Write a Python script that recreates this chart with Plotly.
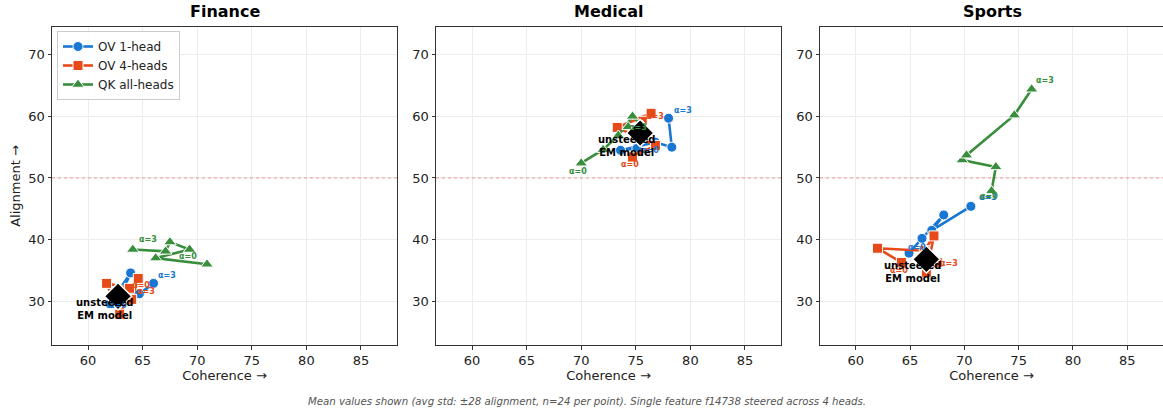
import plotly.graph_objects as go

# ---------------- data ----------------
domains = ["Finance", "Medical", "Sports"]
series_names = ["OV 1-head", "OV 4-heads", "QK all-heads"]
alpha_labels = ["α=0", "α=3"]

fin_ov1_x = [62.0, 63.9, 63.2, 64.7, 66.0]
fin_ov1_y = [29.6, 34.6, 31.8, 31.2, 32.9]
fin_ov4_x = [63.8, 61.7, 62.9, 64.6, 64.0]
fin_ov4_y = [32.1, 32.9, 27.9, 33.7, 30.3]
fin_qk_x = [70.9, 66.2, 69.3, 67.5, 67.1, 64.1]
fin_qk_y = [36.0, 37.0, 38.4, 39.6, 38.1, 38.4]

med_ov1_x = [75.1, 73.6, 76.8, 78.3, 78.0]
med_ov1_y = [54.8, 54.5, 55.8, 55.0, 59.7]
med_ov4_x = [74.7, 76.8, 73.3, 76.4, 75.6]
med_ov4_y = [53.4, 55.3, 58.2, 60.5, 59.2]
med_qk_x = [70.0, 72.0, 73.4, 74.7, 75.6, 74.3]
med_qk_y = [52.4, 54.6, 56.9, 60.0, 58.5, 58.3]

spo_ov1_x = [64.9, 66.1, 68.1, 67.0, 70.6]
spo_ov1_y = [37.8, 40.2, 44.0, 41.5, 45.4]
spo_ov4_x = [64.2, 62.0, 66.3, 67.2, 66.5, 67.5]
spo_ov4_y = [36.3, 38.6, 38.2, 40.6, 34.7, 36.3]
spo_qk_x = [72.5, 72.9, 69.8, 70.2, 74.6, 76.2]
spo_qk_y = [47.9, 51.8, 52.9, 53.7, 60.2, 64.4]

base_x = [62.75, 75.4, 66.5]
base_y = [30.8, 57.3, 36.8]

panel_data = [
    [(fin_ov1_x, fin_ov1_y), (fin_ov4_x, fin_ov4_y), (fin_qk_x, fin_qk_y)],
    [(med_ov1_x, med_ov1_y), (med_ov4_x, med_ov4_y), (med_qk_x, med_qk_y)],
    [(spo_ov1_x, spo_ov1_y), (spo_ov4_x, spo_ov4_y), (spo_qk_x, spo_qk_y)],
]

x_ticks = [60, 65, 70, 75, 80, 85]
y_ticks = [30, 40, 50, 60, 70]
ref_alignment = 50

footnote = ("Mean values shown (avg std: ±28 alignment, n=24 per point). "
            "Single feature f14738 steered across 4 heads.")

# ---------------- styles ----------------
colors = ["#1976D2", "#E64A19", "#388E3C"]
symbols = ["circle", "square", "triangle-up"]
msizes = [10, 10, 11]

# label pixel offsets (dx, dy screen-down) for [alpha=0, alpha=3] per panel/series
label_offsets = [
    [[(8, 2), (13, -8)], [(11, -3), (14, -8)], [(-19, -8), (15, -10)]],
    [[(13, 2), (14, -8)], [(-3, 7), (13, -5)], [(-3, 8), (10, 1)]],
    [[(8, -6), (17, -9)], [(-2, 8), (12, 1)], [(-3, 6), (13, -9)]],
]

x_doms = [(52 / 1163, 397 / 1163), (436 / 1163, 781 / 1163), (820 / 1163, 1.0)]
title_x = [224.5 / 1163, 608.5 / 1163, 992.5 / 1163]
y_dom = (1 - 345 / 413, 1 - 27 / 413)
x_range = [56.7, 88.3]
y_range = [22.9, 74.5]

fig = go.Figure()
annotations = []

for p, dom in enumerate(domains):
    ax = "" if p == 0 else str(p + 1)
    xref, yref = "x" + ax, "y" + ax
    # reference line
    fig.add_trace(go.Scatter(
        x=x_range, y=[ref_alignment, ref_alignment], mode="lines",
        line=dict(color="rgba(240,110,110,0.7)", width=1, dash="dot"),
        xaxis=xref, yaxis=yref, showlegend=False, hoverinfo="skip"))
    for s, (xs, ys) in enumerate(panel_data[p]):
        fig.add_trace(go.Scatter(
            x=xs, y=ys, mode="lines+markers", name=series_names[s],
            line=dict(color=colors[s], width=2.6),
            marker=dict(symbol=symbols[s], size=msizes[s], color=colors[s],
                        line=dict(color="white", width=1)),
            xaxis=xref, yaxis=yref, showlegend=(p == 0), legendgroup=series_names[s]))
        for k, idx in enumerate([0, len(xs) - 1]):
            dx, dy = label_offsets[p][s][k]
            annotations.append(dict(
                x=xs[idx], y=ys[idx], xref=xref, yref=yref, showarrow=False,
                text="<b>" + alpha_labels[k] + "</b>", xshift=dx, yshift=-dy,
                font=dict(size=8, color=colors[s], family="DejaVu Sans")))
    fig.add_trace(go.Scatter(
        x=[base_x[p]], y=[base_y[p]], mode="markers",
        marker=dict(symbol="diamond", size=21, color="black",
                    line=dict(color="white", width=1.5)),
        xaxis=xref, yaxis=yref, showlegend=False))
    annotations.append(dict(
        x=base_x[p], y=base_y[p], xref=xref, yref=yref, showarrow=False,
        text="<b>unsteered<br>EM model</b>", xshift=-14, yshift=-13,
        font=dict(size=10, color="black", family="DejaVu Sans")))
    # panel title
    annotations.append(dict(
        x=title_x[p], y=1 - 12 / 413, xref="paper", yref="paper", showarrow=False,
        xanchor="center", yanchor="middle",
        text="<b>" + dom + "</b>", font=dict(size=16, color="black", family="DejaVu Sans")))

annotations.append(dict(
    x=587 / 1163, y=1 - 401 / 413, xref="paper", yref="paper", showarrow=False,
    xanchor="center", yanchor="middle",
    text="<i>" + footnote + "</i>", font=dict(size=10.2, color="#555555", family="DejaVu Sans")))

layout = dict(
    width=1163, height=413,
    margin=dict(l=0, r=0, t=0, b=0),
    paper_bgcolor="white", plot_bgcolor="white",
    font=dict(family="DejaVu Sans", color="#222", size=13),
    annotations=annotations,
    legend=dict(x=57 / 1163, y=1 - 31 / 413, xanchor="left", yanchor="top",
                bgcolor="rgba(255,255,255,0.9)", bordercolor="#cccccc", borderwidth=1,
                font=dict(size=12, color="#222"), tracegroupgap=0, itemwidth=30),
)
for p in range(3):
    ax = "" if p == 0 else str(p + 1)
    layout["xaxis" + ax] = dict(
        domain=list(x_doms[p]), range=x_range, tickvals=x_ticks,
        showgrid=True, gridcolor="#ececec", gridwidth=1, zeroline=False,
        showline=True, linecolor="#333", linewidth=1, mirror=True,
        ticks="outside", ticklen=3.5, tickcolor="#333",
        title=dict(text="Coherence →", font=dict(size=13), standoff=2),
        anchor="y" + ax)
    layout["yaxis" + ax] = dict(
        domain=list(y_dom), range=y_range, tickvals=y_ticks,
        showgrid=True, gridcolor="#ececec", gridwidth=1, zeroline=False,
        showline=True, linecolor="#333", linewidth=1, mirror=True,
        ticks="outside", ticklen=3.5, tickcolor="#333",
        title=dict(text="Alignment →" if p == 0 else "", font=dict(size=13), standoff=4),
        anchor="x" + ax)

fig.update_layout(**layout)
fig.write_html("out.html")
